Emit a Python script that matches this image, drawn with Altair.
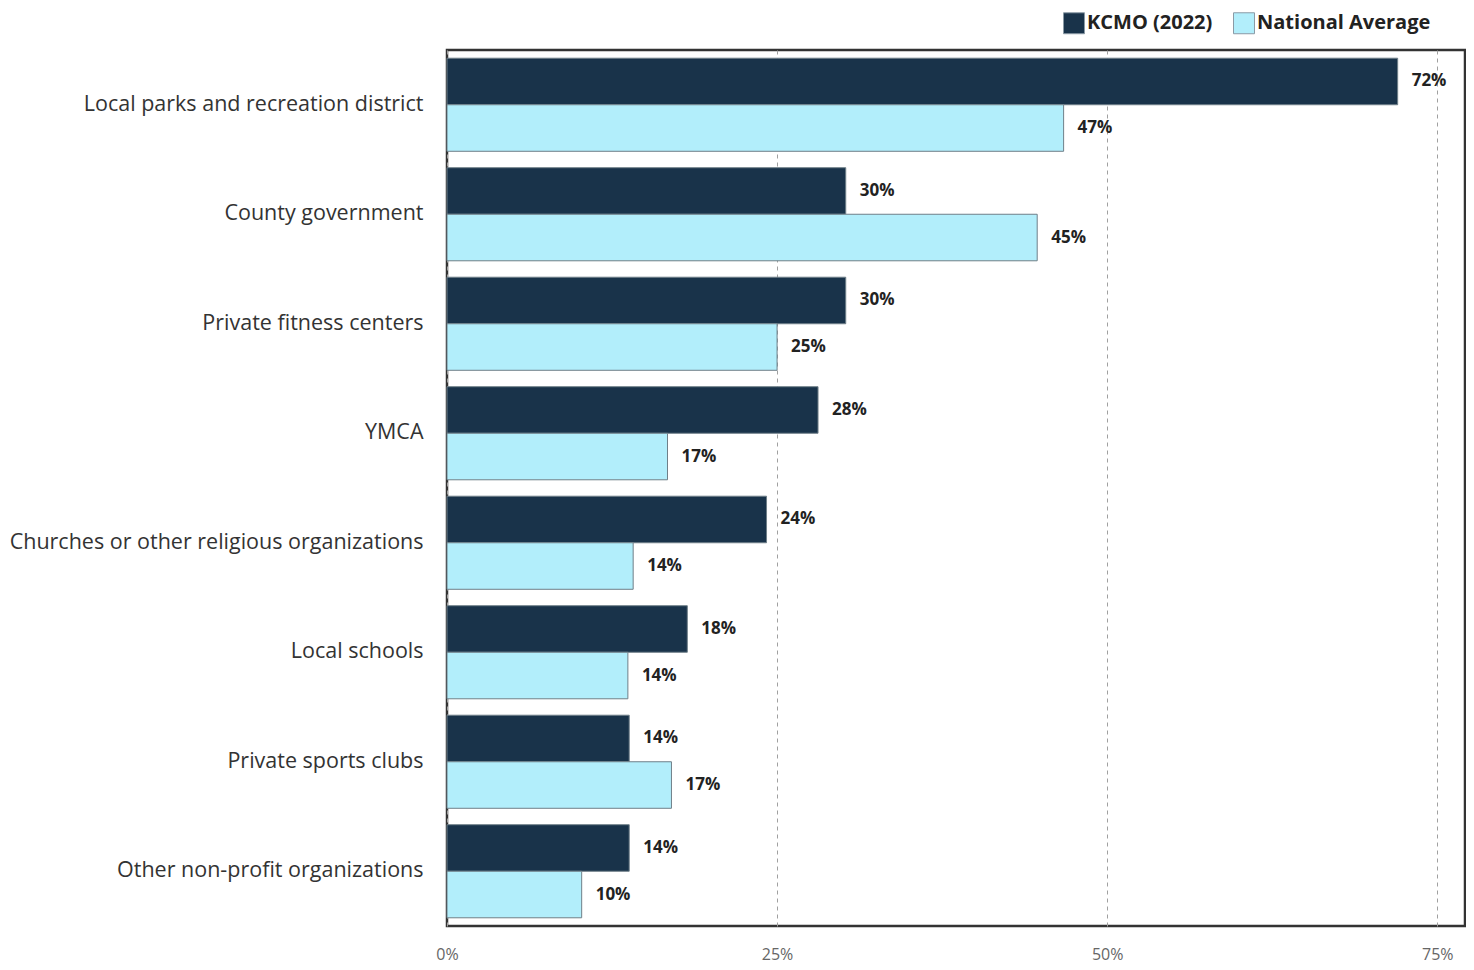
import altair as alt
import pandas as pd

categories = [
    "Local parks and recreation district",
    "County government",
    "Private fitness centers",
    "YMCA",
    "Churches or other religious organizations",
    "Local schools",
    "Private sports clubs",
    "Other non-profit organizations",
]
series = ["KCMO (2022)", "National Average"]
kcmo = [72.0, 30.2, 30.2, 28.1, 24.2, 18.2, 13.8, 13.8]
national = [46.7, 44.7, 25.0, 16.7, 14.1, 13.7, 17.0, 10.2]
tick_values = [0, 25, 50, 75]

rows = []
for i, c in enumerate(categories):
    rows.append({"cat": c, "series": series[0], "v": kcmo[i] / 100, "order": 0})
    rows.append({"cat": c, "series": series[1], "v": national[i] / 100, "order": 1})
df = pd.DataFrame(rows)

FONT = "Open Sans"

y_enc = alt.Y("cat:N", sort=categories,
              scale=alt.Scale(paddingInner=0.15, paddingOuter=0.075),
              axis=alt.Axis(title=None, labelFontSize=21.5, labelColor="#333333",
                            labelFont=FONT, domain=False, ticks=False,
                            labelPadding=24, labelLimit=500))
yoff = alt.YOffset("series:N", sort=series, scale=alt.Scale(paddingInner=0, paddingOuter=0))

x_enc = alt.X("v:Q", scale=alt.Scale(domain=[0, 0.771], nice=False),
              axis=alt.Axis(title=None, values=[t / 100 for t in tick_values], format=".0%",
                            labelFontSize=16, labelColor="#666666", labelFont=FONT,
                            labelPadding=20, ticks=False, domain=False, labelFlush=False,
                            grid=True, gridDash=[4, 4], gridColor="#a0a0a0", gridWidth=1))

bars = alt.Chart(df).mark_bar(stroke="#6f7f88", strokeWidth=1).encode(
    x=x_enc,
    y=y_enc,
    yOffset=yoff,
    color=alt.Color("series:N", sort=series,
                    scale=alt.Scale(domain=series, range=["#19334a", "#b2eefb"]),
                    legend=alt.Legend(title=None, orient="none", legendX=616, legendY=-38,
                                      direction="horizontal", symbolType="square",
                                      symbolSize=440, symbolStrokeColor="#8a9aa5",
                                      symbolStrokeWidth=1, labelFontSize=20,
                                      labelFontWeight="bold", labelFont=FONT,
                                      labelColor="#222222", columnPadding=18,
                                      labelOffset=2, labelLimit=400, symbolOpacity=1)),
)

labels = alt.Chart(df).mark_text(align="left", baseline="middle", dx=14, fontSize=17,
                                  fontWeight="bold", font=FONT, color="#222222").encode(
    x="v:Q",
    y=alt.Y("cat:N", sort=categories),
    yOffset=alt.YOffset("series:N", sort=series),
    text=alt.Text("v:Q", format=".0%"),
)

chart = (bars + labels).properties(
    width=1018, height=876,
    padding={"left": 439, "top": 42, "right": 1, "bottom": 40},
    autosize=alt.AutoSizeParams(type="none"),
).configure_view(stroke="#333333", strokeWidth=2.5)

chart.save("out.html", embed_options={"renderer": "svg", "actions": False})
